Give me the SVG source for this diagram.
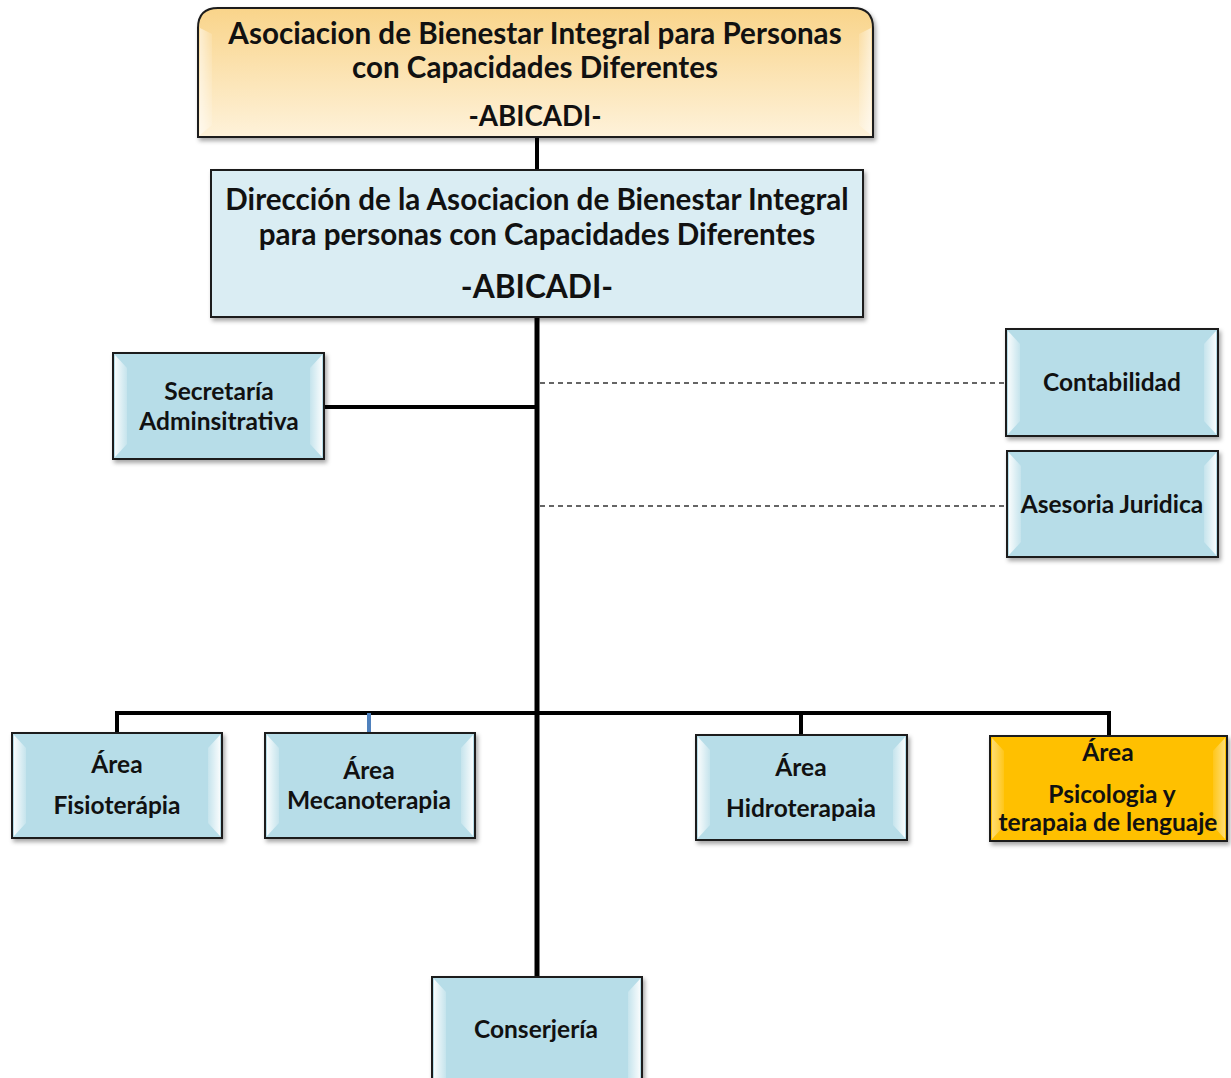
<svg xmlns="http://www.w3.org/2000/svg" width="1231" height="1078" viewBox="0 0 1231 1078">
<defs>
  <linearGradient id="gTop" x1="0" y1="0" x2="0" y2="1">
    <stop offset="0" stop-color="#f9d48a"/>
    <stop offset="1" stop-color="#fef2da"/>
  </linearGradient>
  <linearGradient id="bevL" x1="0" y1="0" x2="1" y2="0">
    <stop offset="0" stop-color="#ffffff" stop-opacity="0.9"/>
    <stop offset="1" stop-color="#ffffff" stop-opacity="0.2"/>
  </linearGradient>
  <linearGradient id="bevR" x1="1" y1="0" x2="0" y2="0">
    <stop offset="0" stop-color="#ffffff" stop-opacity="0.9"/>
    <stop offset="1" stop-color="#ffffff" stop-opacity="0.2"/>
  </linearGradient>
  <filter id="sh" x="-5%" y="-5%" width="115%" height="120%">
    <feDropShadow dx="2" dy="3" stdDeviation="2" flood-color="#000" flood-opacity="0.35"/>
  </filter>
</defs>
<style>
  .box { fill: #b7dde8; stroke: #1e1e1e; stroke-width: 2; filter: url(#sh); }
  .orange { fill: #ffc000; }
  .t { font-family: Lato, "Open Sans", "Liberation Sans", sans-serif; font-weight: bold; fill: #111; text-anchor: middle; }
  .s22 { font-size: 24.5px; }
  .s26 { font-size: 29.6px; }
  .a1 { font-size: 27.7px; }
  .s30 { font-size: 31.7px; }
  .line { stroke: #000; stroke-width: 5; fill: none; }
  .thin { stroke: #000; stroke-width: 4; fill: none; }
  .dash { stroke: #333; stroke-width: 1.5; stroke-dasharray: 5 4; fill: none; }
</style>

<g id="connectors">
  <line class="thin" x1="537" y1="137" x2="537" y2="171"/>
  <line class="line" x1="537" y1="317" x2="537" y2="978"/>
  <line class="thin" x1="324" y1="407" x2="537" y2="407"/>
  <line class="dash" x1="540" y1="383" x2="1006" y2="383"/>
  <line class="dash" x1="540" y1="506" x2="1007" y2="506"/>
  <polyline class="thin" points="117,734 117,713 1109,713 1109,737"/>
  <line x1="369" y1="713" x2="369" y2="734" stroke="#4f81bd" stroke-width="4"/>
  <line class="thin" x1="801" y1="713" x2="801" y2="736"/>
</g>

<g id="asociacion">
  <path d="M198,137 L198,28 Q198,8 218,8 L853,8 Q873,8 873,28 L873,137 Z" fill="url(#gTop)" stroke="#1e1e1e" stroke-width="2" filter="url(#sh)"/>
  <polygon points="200,28 212,34 212,125 200,135" fill="url(#bevL)" opacity="0.6"/>
  <polygon points="871,28 859,34 859,125 871,135" fill="url(#bevR)" opacity="0.6"/>
  <text class="t s26" x="535" y="44">Asociacion  de Bienestar Integral para Personas</text>
  <text class="t s26" x="535" y="78">con Capacidades  Diferentes</text>
  <text class="t a1" x="535" y="126">-ABICADI-</text>
</g>

<g id="direccion">
  <rect x="211" y="170" width="652" height="147" fill="#daedf3" stroke="#1e1e1e" stroke-width="2" filter="url(#sh)"/>
  <text class="t s26" x="537" y="210">Dirección de la Asociacion  de Bienestar Integral</text>
  <text class="t s26" x="537" y="245">para  personas con Capacidades  Diferentes</text>
  <text class="t s30" x="537" y="298">-ABICADI-</text>
</g>

<g id="secretaria">
  <rect class="box" x="113" y="353" width="211" height="106"/>
  <polygon points="115,355 127,368 127,444 115,457" fill="url(#bevL)"/>
  <polygon points="322,355 310,368 310,444 322,457" fill="url(#bevR)"/>
  <text class="t s22" x="219" y="400">Secretaría</text>
  <text class="t s22" x="219" y="430">Adminsitrativa</text>
</g>

<g id="contabilidad">
  <rect class="box" x="1006" y="329" width="212" height="107"/>
  <polygon points="1008,331 1020,344 1020,421 1008,434" fill="url(#bevL)"/>
  <polygon points="1216,331 1204,344 1204,421 1216,434" fill="url(#bevR)"/>
  <text class="t s22" x="1112" y="391">Contabilidad</text>
</g>

<g id="asesoria">
  <rect class="box" x="1007" y="451" width="211" height="106"/>
  <polygon points="1009,453 1021,466 1021,542 1009,555" fill="url(#bevL)"/>
  <polygon points="1216,453 1204,466 1204,542 1216,555" fill="url(#bevR)"/>
  <text class="t s22" x="1112" y="513">Asesoria Juridica</text>
</g>

<g id="fisioterapia">
  <rect class="box" x="12" y="733" width="210" height="105"/>
  <polygon points="14,735 26,748 26,823 14,836" fill="url(#bevL)"/>
  <polygon points="220,735 208,748 208,823 220,836" fill="url(#bevR)"/>
  <text class="t s22" x="117" y="773">Área</text>
  <text class="t s22" x="117" y="814">Fisioterápia</text>
</g>

<g id="mecanoterapia">
  <rect class="box" x="265" y="733" width="210" height="105"/>
  <polygon points="267,735 279,748 279,823 267,836" fill="url(#bevL)"/>
  <polygon points="473,735 461,748 461,823 473,836" fill="url(#bevR)"/>
  <text class="t s22" x="369" y="779">Área</text>
  <text class="t s22" x="369" y="809">Mecanoterapia</text>
</g>

<g id="hidroterapia">
  <rect class="box" x="696" y="735" width="211" height="105"/>
  <polygon points="698,737 710,750 710,825 698,838" fill="url(#bevL)"/>
  <polygon points="905,737 893,750 893,825 905,838" fill="url(#bevR)"/>
  <text class="t s22" x="801" y="776">Área</text>
  <text class="t s22" x="801" y="817">Hidroterapaia</text>
</g>

<g id="psicologia">
  <rect class="box orange" x="990" y="736" width="237" height="105"/>
  <polygon points="992,738 1004,751 1004,826 992,839" fill="url(#bevL)" opacity="0.5"/>
  <polygon points="1225,738 1213,751 1213,826 1225,839" fill="url(#bevR)" opacity="0.5"/>
  <text class="t s22" x="1108" y="761">Área</text>
  <text class="t s22" x="1112" y="803">Psicologia y</text>
  <text class="t s22" x="1108" y="831">terapaia  de lenguaje</text>
</g>

<g id="conserjeria">
  <rect class="box" x="432" y="977" width="210" height="110"/>
  <polygon points="434,979 446,992 446,1078 434,1078" fill="url(#bevL)"/>
  <polygon points="640,979 628,992 628,1078 640,1078" fill="url(#bevR)"/>
  <text class="t s22" x="536" y="1038">Conserjería</text>
</g>
</svg>
